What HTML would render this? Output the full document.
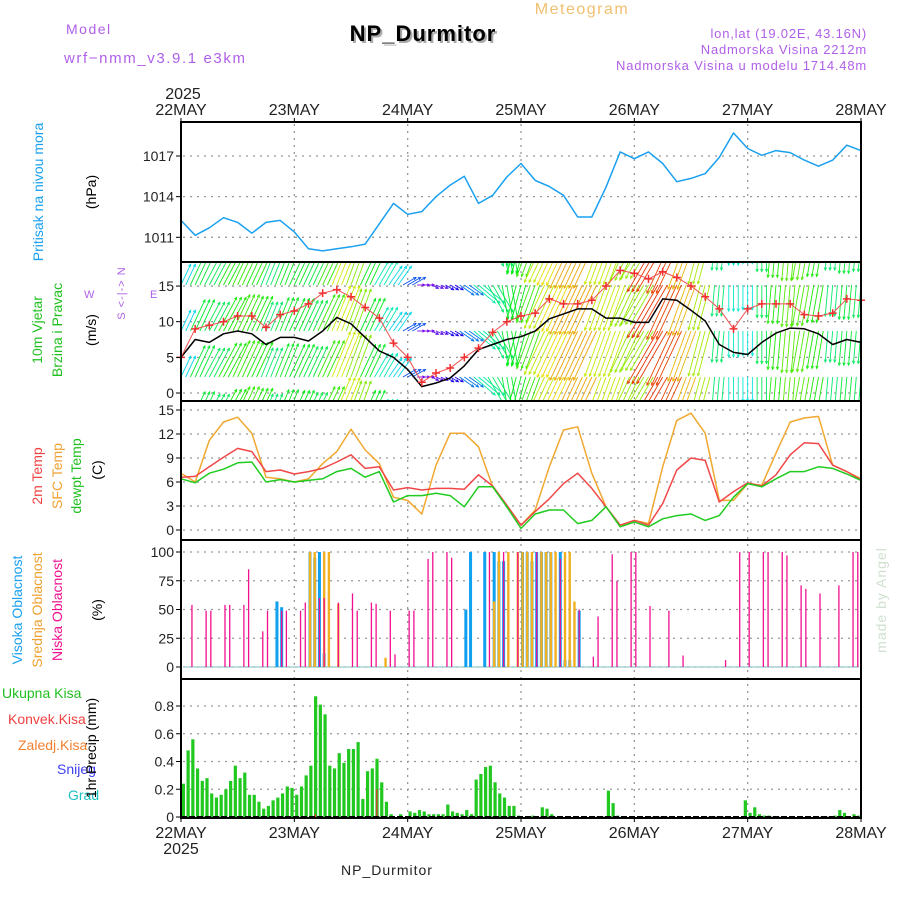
<!DOCTYPE html>
<html><head><meta charset="utf-8"><style>
html,body{margin:0;padding:0;background:#fff;width:900px;height:900px;overflow:hidden}
svg text{font-family:"Liberation Sans",sans-serif}
</style></head><body>
<svg id="chart" width="900" height="900" viewBox="0 0 900 900" xmlns="http://www.w3.org/2000/svg">
<defs>
<clipPath id="cw"><rect x="181" y="263" width="680" height="137"/></clipPath>
</defs>
<g id="static">
<text x="66" y="34" font-size="14" fill="#b060e8" letter-spacing="1.5">Model</text>
<text x="64" y="63" font-size="15" fill="#b060e8" letter-spacing="1.6">wrf−nmm_v3.9.1 e3km</text>
<text x="582" y="14" font-size="16" fill="#f0c070" text-anchor="middle" letter-spacing="1.5">Meteogram</text>
<text x="425" y="43" font-size="22" font-weight="bold" fill="#aaa" text-anchor="middle" letter-spacing="1">NP_Durmitor</text>
<text x="423" y="41" font-size="22" font-weight="bold" fill="#000" text-anchor="middle" letter-spacing="1">NP_Durmitor</text>
<text x="867" y="38" font-size="13" fill="#b060e8" text-anchor="end" letter-spacing="0.8">lon,lat (19.02E, 43.16N)</text>
<text x="867" y="54" font-size="13" fill="#b060e8" text-anchor="end" letter-spacing="0.8">Nadmorska Visina 2212m</text>
<text x="867" y="70" font-size="13" fill="#b060e8" text-anchor="end" letter-spacing="0.8">Nadmorska Visina u modelu 1714.48m</text>
<text x="183" y="99" font-size="16" fill="#222" text-anchor="middle">2025</text>
<text x="181" y="854" font-size="16" fill="#222" text-anchor="middle">2025</text>
<text x="387" y="875" font-size="14" fill="#222" text-anchor="middle" letter-spacing="1">NP_Durmitor</text>
<text transform="translate(886,600) rotate(-90)" font-size="14" fill="#cfe0cf" text-anchor="middle" font-family="Liberation Serif" letter-spacing="1">made by Angel</text>

<text transform="translate(43,192) rotate(-90)" font-size="14" fill="#1aa0f0" text-anchor="middle">Pritisak na nivou mora</text>
<text transform="translate(96,192) rotate(-90)" font-size="14" fill="#000" text-anchor="middle">(hPa)</text>

<text transform="translate(42,330) rotate(-90)" font-size="14" fill="#20c020" text-anchor="middle">10m Vjetar</text>
<text transform="translate(62,330) rotate(-90)" font-size="14" fill="#20c020" text-anchor="middle">Brzina i Pravac</text>
<text transform="translate(96,330) rotate(-90)" font-size="14" fill="#000" text-anchor="middle">(m/s)</text>
<text x="84" y="298" font-size="11" fill="#b060e8">W</text>
<text x="150" y="298" font-size="11" fill="#b060e8">E</text>
<text transform="translate(125,293) rotate(-90)" font-size="11" fill="#b060e8" text-anchor="middle" letter-spacing="1">S &lt;-|-&gt; N</text>

<text transform="translate(42,476) rotate(-90)" font-size="14" fill="#f04040" text-anchor="middle">2m Temp</text>
<text transform="translate(62,476) rotate(-90)" font-size="14" fill="#f0a030" text-anchor="middle">SFC Temp</text>
<text transform="translate(81,476) rotate(-90)" font-size="14" fill="#20c020" text-anchor="middle">dewpt Temp</text>
<text transform="translate(102,470) rotate(-90)" font-size="14" fill="#000" text-anchor="middle">(C)</text>

<text transform="translate(22,610) rotate(-90)" font-size="14" fill="#1aa0f0" text-anchor="middle">Visoka Oblacnost</text>
<text transform="translate(42,610) rotate(-90)" font-size="14" fill="#f0a030" text-anchor="middle">Srednja Oblacnost</text>
<text transform="translate(62,610) rotate(-90)" font-size="14" fill="#f01090" text-anchor="middle">Niska Oblacnost</text>
<text transform="translate(102,610) rotate(-90)" font-size="14" fill="#000" text-anchor="middle">(%)</text>

<text x="2" y="698" font-size="14" fill="#20c020">Ukupna Kisa</text>
<text x="8" y="724" font-size="14" fill="#f04040">Konvek.Kisa</text>
<text x="18" y="750" font-size="14" fill="#f08030">Zaledj.Kisa</text>
<text x="57" y="774" font-size="14" fill="#4040f0">Snijeg</text>
<text x="68" y="800" font-size="14" fill="#20c0c0">Grad</text>
<text transform="translate(96,748) rotate(-90)" font-size="14" fill="#000" text-anchor="middle">1hr Precip (mm)</text>
</g>
<g id="grid"></g>
<g id="marks"></g>
<g id="frame"></g>
</svg>
<script>
// ---- data (3-hourly unless noted) ----
const dayLabels = ["22MAY","23MAY","24MAY","25MAY","26MAY","27MAY","28MAY"];
const pressure = [1012.25,1011.15,1011.7,1012.45,1012.1,1011.3,1012.1,1012.25,1011.4,1010.15,1010.0,1010.15,1010.3,1010.5,1012.0,1013.5,1012.7,1012.9,1014.0,1014.85,1015.5,1013.5,1014.1,1015.45,1016.45,1015.2,1014.75,1014.1,1012.5,1012.5,1014.7,1017.3,1016.8,1017.3,1016.45,1015.1,1015.35,1015.7,1016.9,1018.7,1017.55,1017.05,1017.4,1017.25,1016.7,1016.25,1016.7,1017.8,1017.4];
const pressureTicks = [1011,1014,1017];
const windSpeed = [5.0,7.5,7.1,8.3,8.7,8.3,6.8,7.8,7.8,7.3,8.7,10.6,9.7,7.8,5.9,5.0,3.3,0.9,1.4,2.1,3.8,6.1,6.8,7.5,7.9,8.7,10.4,11.1,11.8,11.8,10.5,10.5,9.9,9.9,13.2,13.0,11.6,10.1,6.8,5.7,5.4,7.1,8.4,9.1,9.0,8.3,6.8,7.5,7.1];
const windGust = [5.0,9.0,9.5,10.0,10.8,10.8,9.2,11.0,11.5,12.5,14.0,14.5,13.5,12.0,10.5,7.0,5.0,1.5,2.8,3.5,5.0,6.3,8.5,10.0,10.8,11.2,13.2,12.5,12.5,13.0,15.0,17.2,16.8,16.0,17.0,16.2,15.0,13.5,11.8,9.0,11.8,12.5,12.5,12.5,11.0,10.8,11.2,13.2,13.0];
const windDir = [25,25,28,28,25,25,22,22,25,25,25,22,20,25,30,35,60,90,115,120,125,130,150,170,195,200,205,205,205,205,200,200,205,210,210,205,200,195,185,180,180,180,185,185,190,190,185,185,185];
const windTicks = [0,5,10,15];
const tempSfc = [7.1,6.0,11.2,13.5,14.1,12.1,6.6,6.4,6.0,6.4,8.3,9.8,12.6,10.0,8.3,4.1,3.7,2.0,8.1,12.1,12.1,10.4,5.4,3.1,0.6,2.5,7.9,12.5,12.9,7.1,2.9,0.6,1.2,0.8,7.9,13.7,14.6,12.1,3.7,3.7,5.8,5.6,9.6,13.5,14.0,14.2,8.1,7.3,6.4];
const temp2m = [6.6,6.7,7.9,9.1,10.2,9.8,7.3,7.5,7.0,7.3,7.7,8.5,9.4,7.7,7.9,5.0,5.3,5.0,5.2,5.2,5.1,6.9,5.5,3.1,0.6,2.3,3.9,5.8,7.1,5.2,2.9,0.6,1.2,0.6,3.3,7.5,9.0,8.7,3.5,4.8,5.9,5.5,6.9,9.4,10.9,10.8,8.1,7.3,6.3];
const tempDew = [6.4,5.9,7.1,7.6,8.4,8.5,6.0,6.3,6.0,6.2,6.4,7.3,7.7,6.6,7.3,3.5,4.3,4.3,4.6,4.3,2.9,5.4,5.4,2.9,0.2,2.0,2.5,2.5,0.8,1.2,2.9,0.4,1.0,0.4,1.4,1.8,2.0,1.2,1.8,4.1,5.8,5.4,6.4,7.3,7.3,7.9,7.7,7.0,6.2];
const tempTicks = [0,3,6,9,12,15];
const cloudLowHours = [2,5,6,9,10,13,14,17,18,21,22,25,26,29,30,33,36,37,40,41,44,45,48,49,52,53,56,57,65,68,71,75,80,84,87,88,91,92,95,96,99,103,106,115,118,120,123,124,127,128,131,132,135,139,142,143];
const cloudLowValues = [54,49,49,54,54,54,85,31,49,49,49,49,56,60,60,56,64,49,56,55,49,11,49,49,94,100,100,95,100,100,100,100,94,50,9,44,98,75,100,100,53,49,10,6,100,100,100,100,100,97,71,68,64,71,100,100];
const cloudMidHours = [27,28,30,31,33,43,66,67,69,71,72,73,74,76,77,78,79,81,82,83];
const cloudMidValues = [100,100,100,100,55,8,57,100,100,100,100,100,100,100,100,100,100,100,100,57];
const cloudHighHours = [20,21,27,28,29,30,60,61,64,66,67,68,72,73,74,75,76,77,78,80,81,82,84];
const cloudHighValues = [57,52,100,95,100,12,50,100,100,100,92,92,100,100,92,100,100,100,100,100,6,6,49];
const cloudTicks = [0,25,50,75,100];
// hourly precipitation (mm), 144 hours
const precipTotal = [.24,.48,.56,.35,.26,.28,.17,.14,.16,.2,.26,.37,.28,.32,.16,.16,.11,.06,.08,.12,.14,.17,.22,.21,
.16,.22,.3,.37,.87,.81,.74,.37,.35,.46,.39,.49,.49,.54,.13,.33,.35,.42,.25,.11,.02,0,.02,0,
.04,.03,.05,.04,.02,.02,.02,.02,.09,.04,.03,.02,.05,.02,.27,.31,.36,.37,.25,.17,.14,.08,.08,.01,
0,0,.01,0,.07,.06,.02,0,0,0,0,0,0,0,0,0,0,0,.19,.1,.01,0,0,0,
0,0,0,0,0,0,0,0,0,0,0,0,0,0,0,0,0,0,0,0,0,0,0,.12,
.03,.07,.02,.01,.01,0,0,0,0,0,0,0,0,0,0,0,0,0,.01,.05,.03,0,.02,.01];
const precipConvHours = [28,41];
const precipConvValues = [.02,.2];
const precipTicks = [0,0.2,0.4,0.6,0.8];

// ---- axes ----
const X0=181, X1=861, H=144;
const xH = h => X0 + h*(X1-X0)/H;
const x3 = i => xH(i*3);
const yP = v => 156 - (v-1017)*13.55;
const yW = v => 393 - v*7.13;
const yT = v => 530 - v*8;
const yC = v => 667 - v*1.15;
const yR = v => 817 - v*138.75;
const NS='http://www.w3.org/2000/svg';
function mk(parent,tag,attrs){const e=document.createElementNS(NS,tag);for(const k in attrs)e.setAttribute(k,attrs[k]);parent.appendChild(e);return e;}
const grid=document.getElementById('grid'), marks=document.getElementById('marks'), frame=document.getElementById('frame');
const panels=[[122,262],[262,401],[401,540],[540,679],[679,818]];
const dash={stroke:'#999','stroke-width':1.3,'stroke-dasharray':'2,5',fill:'none'};

dayLabels.forEach((d,i)=>{
  const x=xH(i*24);
  if(i>0&&i<6){const l=mk(grid,'line',Object.assign({x1:x,x2:x,y1:124,y2:816},dash));
    
    }
  const t=mk(frame,'text',{x:x,y:115,'font-size':16,fill:'#222','text-anchor':'middle'});t.textContent=d;
  
  
  const b=mk(frame,'text',{x:x,y:838,'font-size':16,fill:'#222','text-anchor':'middle'});b.textContent=d;
  
  
  for(const y of [122,818]){const tk=mk(frame,'line',{x1:x,x2:x,y1:y,y2:y+(y===122?-4:4),stroke:'#000','stroke-width':1});
    
    }
});
function yTicks(ticks,yf,fmt){ticks.forEach(v=>{
  const y=yf(v);
  const g=mk(grid,'line',Object.assign({x1:183,x2:859,y1:y,y2:y},dash));
  
  
  const tk=mk(frame,'line',{x1:176,x2:181,y1:y,y2:y,stroke:'#000','stroke-width':1});
  
  
  const t=mk(frame,'text',{x:174,y:y+5,'font-size':14,fill:'#222','text-anchor':'end'});t.textContent=fmt(v);
  
  
});}
yTicks(pressureTicks,yP,v=>v);
yTicks(windTicks,yW,v=>v);
yTicks(tempTicks,yT,v=>v);
yTicks(cloudTicks,yC,v=>v);
yTicks(precipTicks,yR,v=>v===0?'0':v.toFixed(1));

function line(arr,yf,color,name,parent){
  const pts=arr.map((v,i)=>x3(i).toFixed(1)+','+yf(v).toFixed(1)).join(' ');
  const p=mk(parent||marks,'polyline',{points:pts,fill:'none',stroke:color,'stroke-width':1.5,'stroke-linejoin':'round'});
  
  
}
line(pressure,yP,'#1aa0f0','pressure-line');

const wg=mk(marks,'g',{'clip-path':'url(#cw)'});


const rows=[239,285,331,377,423];
function hueOf(s){let h=290-s*21;return Math.max(0,Math.min(285,h));}
for(let h=0;h<=H;h++){
  const i=Math.min(48,Math.round(h/3));
  const s=windSpeed[i], a=windDir[i]*Math.PI/180, L=Math.max(8,s*4.6);
  const col='hsl('+hueOf(s)+',95%,47%)';
  const x=xH(h);
  rows.forEach(r=>{
    const ex=x+L*Math.sin(a), ey=r-L*Math.cos(a);
    const ln=mk(wg,'line',{x1:x,y1:r,x2:ex,y2:ey,stroke:col,'stroke-width':0.9});
    
    
    const hd=Math.atan2(ey-r,ex-x);
    const hp=mk(wg,'polyline',{points:(ex+3*Math.cos(hd+2.7))+','+(ey+3*Math.sin(hd+2.7))+' '+ex+','+ey+' '+(ex+3*Math.cos(hd-2.7))+','+(ey+3*Math.sin(hd-2.7)),fill:'none',stroke:col,'stroke-width':0.8});
    
    
  });
}
line(windSpeed,yW,'#000','wind-speed-line');
const gp=mk(marks,'polyline',{points:windGust.map((v,i)=>x3(i)+','+yW(v)).join(' '),fill:'none',stroke:'#f05050','stroke-width':1});


windGust.forEach((v,i)=>{
  const x=x3(i),y=yW(v);
  const p=mk(marks,'path',{d:`M${x-4},${y}h8M${x},${y-4}v8`,stroke:'#f03030','stroke-width':1.5});
  
  
});

line(tempSfc,yT,'#f0a830','sfc-temp-line');
line(temp2m,yT,'#f04848','temp-2m-line');
line(tempDew,yT,'#20cc20','dewpoint-line');

const bl=mk(marks,'line',{x1:183,x2:859,y1:yC(0),y2:yC(0),stroke:'#9cc','stroke-width':1.2});


function cbars(hours,vals,color,w,name){hours.forEach((h,k)=>{
  const x=xH(h)+1.5, y=yC(vals[k]);
  const r=mk(marks,'rect',{x:x-w/2,y:y,width:w,height:yC(0)-y,fill:color});
  
  
});}
cbars(cloudHighHours,cloudHighValues,'#10a0f0',3,'cloud-high-bar');
cbars(cloudMidHours,cloudMidValues,'#f0b020',2.4,'cloud-mid-bar');
cbars(cloudLowHours,cloudLowValues,'#f01090',1.3,'cloud-low-bar');

precipTotal.forEach((v,h)=>{
  if(v<=0)return;
  const y=yR(v);
  const r=mk(marks,'rect',{x:xH(h)+0.8,y:y,width:3.2,height:yR(0)-y,fill:'#20c820'});
  
  
});
precipConvHours.forEach((h,k)=>{
  const y=yR(precipConvValues[k]);
  const r=mk(marks,'rect',{x:xH(h)+1.6,y:y,width:1.2,height:yR(0)-y,fill:'#f03030'});
  
  
});
const zl=mk(marks,'line',{x1:181,x2:861,y1:817,y2:817,stroke:'#000','stroke-width':2,'stroke-dasharray':'6,2'});



panels.forEach(([a,b])=>{
  const r=mk(frame,'rect',{x:181,y:a,width:680,height:b-a,fill:'none',stroke:'#000','stroke-width':2});
  
  
});
</script>
</body></html>
